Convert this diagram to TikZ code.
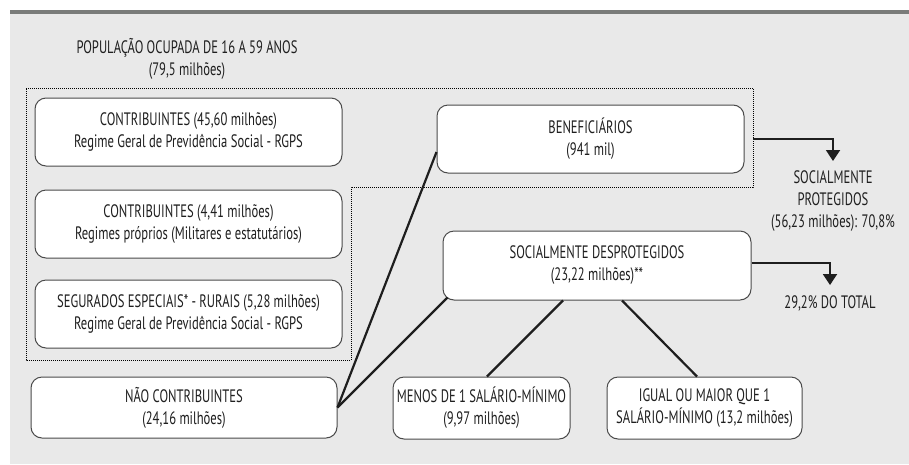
\documentclass[tikz,border=0pt]{standalone}
\usepackage{fontspec}
\setmainfont{PT Sans}[FakeStretch=0.70]
\usetikzlibrary{arrows.meta,calc}
\definecolor{bg}{HTML}{E9E9E9}
\definecolor{bar}{HTML}{7A7C7A}
\definecolor{ink}{HTML}{1F1F1F}
\definecolor{edge}{HTML}{4A4A4A}
\definecolor{wire}{HTML}{1E1E1E}
\newcommand\figfont{\fontsize{18}{22}\selectfont}
\begin{document}
\begin{tikzpicture}[x=1pt,y=-1pt,
  box/.style={draw=edge, line width=1pt, fill=white, rounded corners=11pt,
    align=center, inner sep=0pt, text=ink, font=\figfont},
  txt/.style={align=center, inner sep=0pt, text=ink, font=\figfont},
  wireline/.style={draw=wire, line width=2.2pt},
  flowarrow/.style={draw=wire, line width=1.8pt, -{Triangle[width=14pt,length=11pt]}},
  grp/.style={draw=black, line width=0.8pt, dash pattern=on 0.9pt off 1.1pt}]
\useasboundingbox (0,0) rectangle (909,464);
\fill[bg] (10,13) rectangle (909,464);
\fill[bar] (10,10) rectangle (909,13.5);

\node[txt] (title) at (187,59) {POPULAÇÃO OCUPADA DE 16 A 59 ANOS\\(79,5 milhões)};

\draw[grp] (26,88) -- (753,88) -- (753,187) -- (351,187) -- (351,360) -- (26,360) -- cycle;
\coordinate (grpR) at (753,139);

\node[box, minimum width=307pt, minimum height=68pt] (c1) at (188.5,132)
  {CONTRIBUINTES (45,60 milhões)\\Regime Geral de Previdência Social - RGPS};
\node[box, minimum width=307pt, minimum height=68pt] (c2) at (188.5,224)
  {CONTRIBUINTES (4,41 milhões)\\Regimes próprios (Militares e estatutários)};
\node[box, minimum width=307pt, minimum height=68pt] (c3) at (188.5,314)
  {SEGURADOS ESPECIAIS* - RURAIS (5,28 milhões)\\Regime Geral de Previdência Social - RGPS};
\node[box, minimum width=306pt, minimum height=61pt] (nao) at (184,407.5)
  {NÃO CONTRIBUINTES\\(24,16 milhões)};
\node[box, minimum width=307pt, minimum height=68pt] (benef) at (590.5,139)
  {BENEFICIÁRIOS\\(941 mil)};
\node[box, minimum width=308pt, minimum height=69pt] (desp) at (597,265.5)
  {SOCIALMENTE DESPROTEGIDOS\\(23,22 milhões)**};
\node[box, minimum width=177pt, minimum height=62pt] (menos) at (481.5,408)
  {MENOS DE 1 SALÁRIO-MÍNIMO\\(9,97 milhões)};
\node[box, minimum width=195pt, minimum height=62pt] (igual) at (704.5,408)
  {IGUAL OU MAIOR QUE 1\\SALÁRIO-MÍNIMO (13,2 milhões)};

\node[txt, anchor=north] (prot) at (833,170)
  {SOCIALMENTE\\PROTEGIDOS\\(56,23 milhões): 70,8\%};
\node[txt] (total) at (830,303) {29,2\% DO TOTAL};

\draw[wireline] (nao.east) -- ([yshift=-13pt]benef.west);
\draw[wireline] (nao.east) -- ([xshift=5pt,yshift=3pt]desp.south west);
\draw[wireline] ([xshift=-34pt]desp.south) -- ([xshift=5.5pt]menos.north);
\draw[wireline] ([xshift=25pt]desp.south) -- ([xshift=-7.5pt]igual.north);

\draw[flowarrow] (grpR) -| ([yshift=9pt]prot.north);
\draw[flowarrow] ([yshift=2.5pt]desp.east) -| ([yshift=10pt]total.north);
\end{tikzpicture}
\end{document}
